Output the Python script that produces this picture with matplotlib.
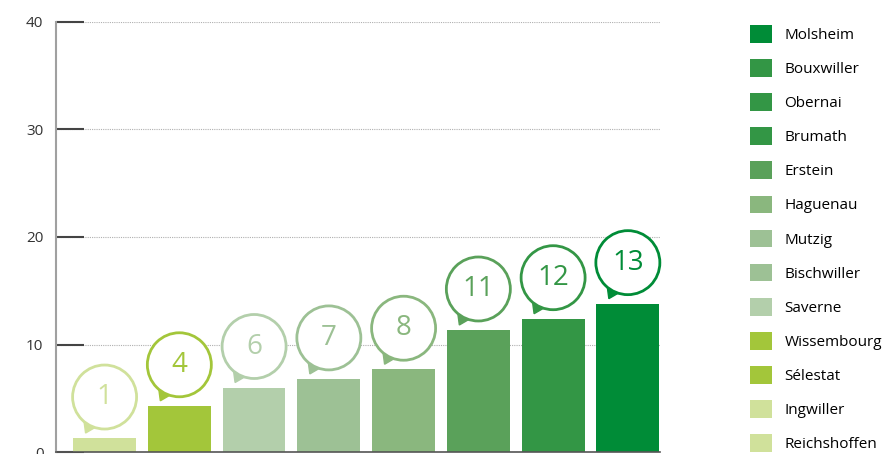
import matplotlib
matplotlib.use("Agg")
import matplotlib.pyplot as plt
import matplotlib.transforms as mtrans
from matplotlib.patches import Circle, Polygon, Patch

plt.rcParams["font.family"] = ["Open Sans", "DejaVu Sans"]

# bars (left to right): rank shown in bubble, value, colour
ranks = ["1", "4", "6", "7", "8", "11", "12", "13"]
values = [1.3, 4.3, 6.0, 6.8, 7.7, 11.35, 12.4, 13.8]
bar_colors = ["#d0e19b", "#a3c63a", "#b3cfab", "#9dc195", "#8ab77e",
              "#5aa15a", "#339645", "#008c37"]

# legend entries
cities = ["Molsheim", "Bouxwiller", "Obernai", "Brumath", "Erstein", "Haguenau",
          "Mutzig", "Bischwiller", "Saverne", "Wissembourg", "Sélestat",
          "Ingwiller", "Reichshoffen"]
city_colors = ["#008c37", "#339645", "#339645", "#339645", "#5aa15a", "#8ab77e",
               "#9dc195", "#9dc195", "#b3cfab", "#a3c63a", "#a3c63a",
               "#d0e19b", "#d0e19b"]

yticks = [0, 10, 20, 30, 40]

fig = plt.figure(figsize=(8.87, 4.54), dpi=100)
ax = fig.add_axes([56 / 887, 2 / 454, (660 - 56) / 887, (452 - 22) / 454])

x = list(range(len(values)))
ax.bar(x, values, width=0.84, color=bar_colors, zorder=2)
ax.set_xlim(-0.65, 7.43)
ax.set_ylim(0, 40)

ax.set_yticks(yticks)
ax.set_yticklabels([str(t) for t in yticks], fontsize=11, color="#333333")
ax.tick_params(axis="y", direction="in", length=20, width=1.5, color="#444444", pad=9)
ax.set_xticks([])
ax.yaxis.grid(True, linestyle=(0, (1, 1)), color="#b0b0b0", linewidth=0.8, zorder=0)
ax.set_axisbelow(True)
for s in ["top", "right"]:
    ax.spines[s].set_visible(False)
ax.spines["left"].set_color("#a0a0a0")
ax.spines["left"].set_linewidth(1.5)
ax.spines["bottom"].set_color("#555555")
ax.spines["bottom"].set_linewidth(1.2)

# speech bubbles above bars (sizes in inches at dpi 100)
r = 0.32
lift = 0.41
for xi, v, lab, c in zip(x, values, ranks, bar_colors):
    tr = fig.dpi_scale_trans + mtrans.ScaledTranslation(xi, v, ax.transData)
    tail = Polygon([(-0.21, lift - 0.21), (-0.07, lift - 0.29), (-0.19, lift - 0.36)],
                   closed=True, facecolor=c, edgecolor=c, linewidth=1,
                   transform=tr, zorder=3, clip_on=False)
    ax.add_patch(tail)
    circ = Circle((0, lift), r, facecolor="white", edgecolor=c, linewidth=2,
                  transform=tr, zorder=4, clip_on=False)
    ax.add_patch(circ)
    ax.annotate(lab, (xi, v), xytext=(0, lift * 72), textcoords="offset points",
                ha="center", va="center", fontsize=20, color=c, zorder=5)

handles = [Patch(facecolor=c, edgecolor="none") for c in city_colors]
fig.legend(handles, cities, loc="upper left", bbox_to_anchor=(744 / 887, 1 - 19 / 454),
           frameon=False, fontsize=11, handlelength=1.4, handleheight=1.4,
           labelspacing=1.06, handletextpad=0.85, borderaxespad=0)

fig.savefig("out.png", dpi=100)
